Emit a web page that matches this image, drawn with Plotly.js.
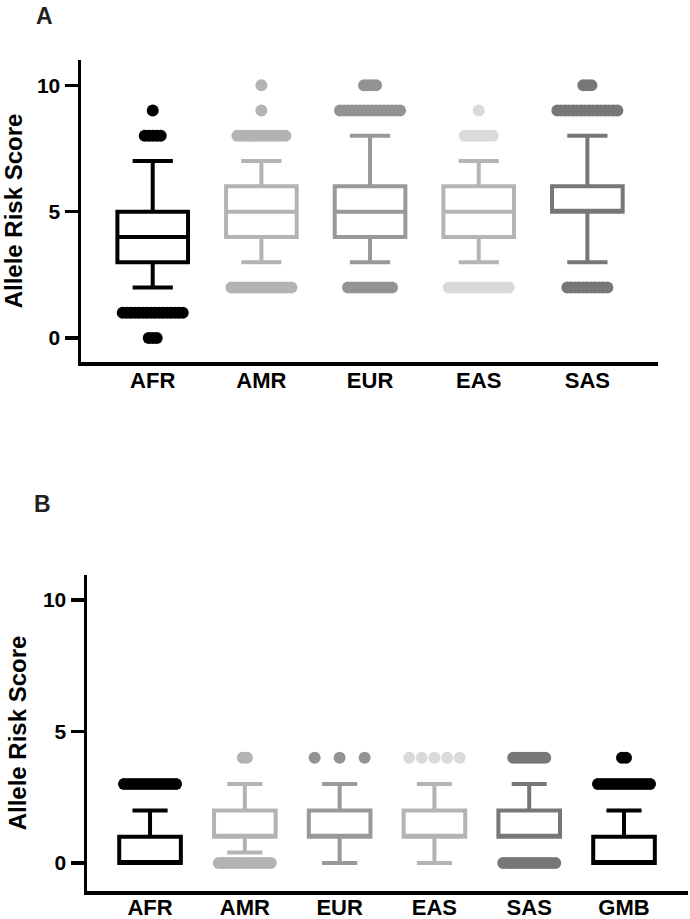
<!DOCTYPE html>
<html>
<head>
<meta charset="utf-8">
<script src="https://cdn.plot.ly/plotly-3.0.1.min.js"></script>
<style>html,body{margin:0;padding:0;background:#fff;}#chart{width:690px;height:919px;}</style>
</head>
<body>
<div id="chart"></div>
<script>
// ---------- DATA: Panel A ----------
const catsA   = ['AFR', 'AMR', 'EUR', 'EAS', 'SAS'];
const q1A     = [3, 4, 4, 4, 5];
const medA    = [4, 5, 5, 5, 5];
const q3A     = [5, 6, 6, 6, 6];
const lowA    = [2, 3, 3, 3, 3];
const highA   = [7, 7, 8, 7, 8];
const outValsA   = [[0, 1, 8, 9], [2, 8, 9, 10], [2, 9, 10], [2, 8, 9], [2, 9, 10]];
const outCountsA = [[3, 16, 5, 1], [16, 13, 1, 1], [12, 16, 4], [16, 8, 1], [11, 16, 3]];

// ---------- DATA: Panel B ----------
const catsB   = ['AFR', 'AMR', 'EUR', 'EAS', 'SAS', 'GMB'];
const q1B     = [0, 1, 1, 1, 1, 0];
const medB    = [0, 1, 1, 1, 1, 0];
const q3B     = [1, 2, 2, 2, 2, 1];
const lowB    = [0, 0.4, 0, 0, 1, 0];
const highB   = [2, 3, 3, 3, 3, 2];
const outValsB   = [[3], [0, 4], [4], [4], [0, 4], [3, 4]];
const outCountsB = [[14], [14, 2], [3], [5], [14, 9], [14, 2]];

const yTickVals = [0, 5, 10];
const yTitle = 'Allele Risk Score';

// ---------- STYLE ----------
const boxColA = ['#000000', '#b3b3b3', '#999999', '#b5b5b5', '#777777'];
const dotColA = ['#000000', '#b3b3b3', '#939393', '#dadada', '#777777'];
const boxColB = ['#000000', '#b3b3b3', '#999999', '#b3b3b3', '#777777', '#000000'];
const dotColB = ['#000000', '#b3b3b3', '#939393', '#dadada', '#777777', '#000000'];
const dotStepDefault = 4; // px between overlapping dots
const dotStepB = {'EUR|4': 25, 'EAS|4': 12.6};

const W = 690, H = 919;
const domXA = [81 / W, 658 / W], domYA = [1 - 362 / H, 1 - 60 / H];
const domXB = [87 / W, 688 / W], domYB = [1 - 891 / H, 1 - 575 / H];
const rangeXA = [-0.66, 4.65], rangeYA = [-0.95, 11];
const rangeXB = [-0.665, 5.675], rangeYB = [-1.065, 10.95];

const pxPerUnitA = (domXA[1] - domXA[0]) * W / (rangeXA[1] - rangeXA[0]);
const pxPerUnitB = (domXB[1] - domXB[0]) * W / (rangeXB[1] - rangeXB[0]);

const FONT = 'Liberation Sans, Arial, sans-serif';
const traces = [];

function addPanel(cats, q1, med, q3, lo, hi, outVals, outCounts, boxCol, dotCol, xa, ya, ppu, stepMap) {
  cats.forEach((c, i) => {
    traces.push({
      type: 'box', x: [i], q1: [q1[i]], median: [med[i]], q3: [q3[i]],
      lowerfence: [lo[i]], upperfence: [hi[i]],
      xaxis: xa, yaxis: ya, width: 0.65, whiskerwidth: 0.57,
      line: {color: boxCol[i], width: 4}, fillcolor: 'rgba(255,255,255,0)',
      boxpoints: false, hoverinfo: 'skip'
    });
    const xs = [], ys = [];
    outVals[i].forEach((v, k) => {
      const n = outCounts[i][k];
      const step = (stepMap && stepMap[c + '|' + v]) || dotStepDefault;
      for (let j = 0; j < n; j++) {
        xs.push(i + (j - (n - 1) / 2) * step / ppu);
        ys.push(v);
      }
    });
    traces.push({
      type: 'scatter', mode: 'markers', x: xs, y: ys, xaxis: xa, yaxis: ya,
      marker: {color: dotCol[i], size: 12, line: {width: 0}}, hoverinfo: 'skip'
    });
  });
}

addPanel(catsA, q1A, medA, q3A, lowA, highA, outValsA, outCountsA, boxColA, dotColA, 'x', 'y', pxPerUnitA, null);
addPanel(catsB, q1B, medB, q3B, lowB, highB, outValsB, outCountsB, boxColB, dotColB, 'x2', 'y2', pxPerUnitB, dotStepB);

function xAxis(dom, rng, cats, anchor, standoff) {
  return {
    domain: dom, range: rng, anchor: anchor,
    tickvals: cats.map((c, i) => i), ticktext: cats,
    ticks: '', ticklabelstandoff: standoff,
    showline: true, linewidth: 3.5, linecolor: '#000',
    showgrid: false, zeroline: false,
    tickfont: {family: FONT, size: 22, color: '#000', weight: 'bold'}
  };
}
function yAxis(dom, rng, anchor) {
  return {
    domain: dom, range: rng, anchor: anchor,
    tickvals: yTickVals, ticktext: yTickVals.map(String),
    ticks: 'outside', ticklen: 13, tickwidth: 3.5, tickcolor: '#000',
    showline: true, linewidth: 3.5, linecolor: '#000',
    showgrid: false, zeroline: false,
    tickfont: {family: FONT, size: 21, color: '#000', weight: 'bold'},
    title: {text: yTitle, standoff: 10, font: {family: FONT, size: 24, color: '#000', weight: 'bold'}}
  };
}

const layout = {
  width: W, height: H, margin: {l: 0, r: 0, t: 0, b: 0},
  paper_bgcolor: '#fff', plot_bgcolor: 'rgba(0,0,0,0)', showlegend: false,
  xaxis: xAxis(domXA, rangeXA, catsA, 'y', -4),
  yaxis: yAxis(domYA, rangeYA, 'x'),
  xaxis2: xAxis(domXB, rangeXB, catsB, 'y2', -6),
  yaxis2: yAxis(domYB, rangeYB, 'x2'),
  annotations: [
    {text: 'A', xref: 'paper', yref: 'paper', x: 34 / W, y: 1 - 1 / H, xanchor: 'left', yanchor: 'top',
     showarrow: false, font: {family: FONT, size: 23, color: '#222', weight: 'bold'}},
    {text: 'B', xref: 'paper', yref: 'paper', x: 32 / W, y: 1 - 489 / H, xanchor: 'left', yanchor: 'top',
     showarrow: false, font: {family: FONT, size: 23, color: '#222', weight: 'bold'}}
  ]
};

Plotly.newPlot('chart', traces, layout, {staticPlot: true, displayModeBar: false});
</script>
</body>
</html>
